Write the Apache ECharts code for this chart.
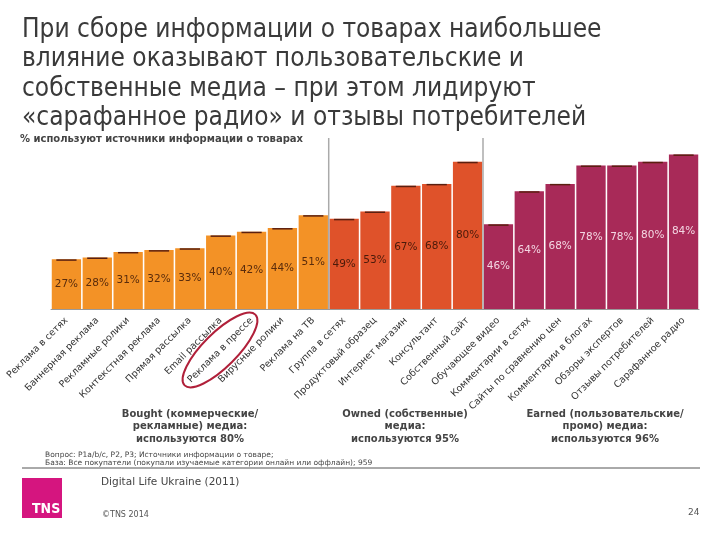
<!DOCTYPE html>
<html><head><meta charset="utf-8">
<script src="https://cdn.jsdelivr.net/npm/echarts@6/dist/echarts.min.js"></script>
<style>html,body{margin:0;padding:0;background:#fff}#c{width:720px;height:540px}</style>
</head><body><div id="c"></div>
<script>
const categories = ['Реклама в сетях','Баннерная реклама','Рекламные ролики','Контекстная реклама','Прямая рассылка','Email рассылка','Реклама в прессе','Вирусные ролики','Реклама на ТВ','Группа в сетях','Продуктовый образец','Интернет магазин','Консультант','Собственный сайт','Обучающее видео','Комментарии в сетях','Сайты по сравнению цен','Комментарии в блогах','Обзоры экспертов','Отзывы потребителей','Сарафанное радио'];
const values = [27,28,31,32,33,40,42,44,51,49,53,67,68,80,46,64,68,78,78,80,84];
const groupOf = [0,0,0,0,0,0,0,0,0,1,1,1,1,1,2,2,2,2,2,2,2];
const groupColors = ['#F39226','#DF522A','#A82A58'];
const labelColors = ['#5a2c0c','#4a1a0a','#f3d6e2'];
const groupBoundaries = [9,14];
const separatorTop = 93;
const groupTitles = [
  ['Bought (коммерческие/','рекламные) медиа:','используются 80%'],
  ['Owned (собственные)','медиа:','используются 95%'],
  ['Earned (пользовательские/','промо) медиа:','используются 96%']
];
const titleLines = ['При сборе информации о товарах наибольшее','влияние оказывают пользовательские и','собственные медиа – при этом лидируют','«сарафанное радио» и отзывы потребителей'];

const chart = echarts.init(document.getElementById('c'));
const font = 'DejaVu Sans, Verdana, sans-serif';
const cfont = '"DejaVu Sans Condensed", "DejaVu Sans", sans-serif';
const sepData = [];
groupBoundaries.forEach(b => { sepData.push([b,0],[b,separatorTop],null); });

const graphics = [];
titleLines.forEach((t,i)=>graphics.push({type:'text',left:22,top:17+i*29.5,style:{text:t,font:'26px '+cfont,fill:'#3a3a3a'}}));
graphics.push({type:'text',left:20,top:134,style:{text:'% используют источники информации о товарах',font:'bold 10px '+font,fill:'#444'}});
const gx=[190,405,605];
groupTitles.forEach((lines,g)=>lines.forEach((t,i)=>graphics.push({type:'text',x:gx[g],y:409+i*12.5,style:{text:t,font:'bold 10px '+font,fill:'#444',align:'center'}})));
graphics.push({type:'text',left:45,top:451,style:{text:'Вопрос: P1a/b/c, P2, P3; Источники информации о товаре;',font:'7.5px '+font,fill:'#444'}});
graphics.push({type:'text',left:45,top:459.5,style:{text:'База: Все покупатели (покупали изучаемые категории онлайн или оффлайн); 959',font:'7.5px '+font,fill:'#444'}});
graphics.push({type:'line',shape:{x1:22,y1:468,x2:700,y2:468},style:{stroke:'#555',lineWidth:1}});
graphics.push({type:'rect',shape:{x:22,y:478,width:40,height:40},style:{fill:'#D5157F'}});
graphics.push({type:'text',left:32,top:502,style:{text:'TNS',font:'bold 14px '+cfont,fill:'#fff'}});
graphics.push({type:'text',left:101,top:477,style:{text:'Digital Life Ukraine (2011)',font:'10.5px '+font,fill:'#444'}});
graphics.push({type:'text',left:102,top:511,style:{text:'©TNS 2014',font:'8px '+font,fill:'#555'}});
graphics.push({type:'text',left:688,top:508,style:{text:'24',font:'9px '+font,fill:'#555'}});
graphics.push({type:'ellipse',x:220,y:350,rotation:Math.PI/4,shape:{cx:0,cy:0,rx:50,ry:17},style:{fill:'none',stroke:'#B0203A',lineWidth:2}});

chart.setOption({
  animation:false,
  textStyle:{fontFamily:font},
  grid:{left:51,right:21,top:125,bottom:231},
  xAxis:[
    {type:'category',data:categories,axisTick:{show:false},axisLine:{lineStyle:{color:'#999'}},
     axisLabel:{rotate:45,interval:0,fontSize:9.5,color:'#333',margin:10,fontFamily:font}},
    {type:'value',min:0,max:categories.length,show:false}
  ],
  yAxis:{type:'value',min:0,max:100,show:false},
  series:[
    {type:'bar',barCategoryGap:'5%',data:values.map((v,i)=>({value:v,itemStyle:{color:groupColors[groupOf[i]]},
      label:{color:labelColors[groupOf[i]]}})),
     label:{show:true,position:'inside',formatter:'{c}%',fontSize:10.5,fontFamily:font}},
    {type:'pictorialBar',symbol:'rect',symbolPosition:'end',symbolSize:['95%',1.5],barGap:'-100%',
     data:values,itemStyle:{color:'#5a1f10'},z:3,silent:true},
    {type:'line',xAxisIndex:1,data:sepData,symbol:'none',lineStyle:{color:'#aaa',width:1.5},z:4,silent:true}
  ],
  graphic:graphics
});
</script></body></html>
